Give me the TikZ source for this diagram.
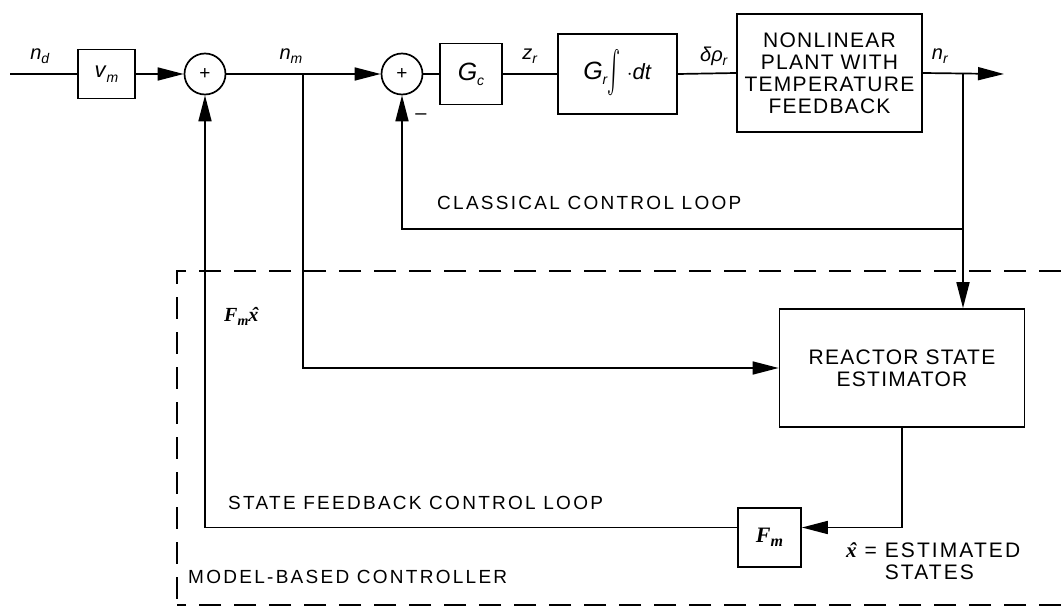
\documentclass[tikz,border=0pt]{standalone}
\usepackage{graphicx}
\usepackage{fontspec}
\setmainfont{Liberation Sans}
\newfontfamily\serifbi{Liberation Serif}
\usetikzlibrary{arrows.meta,calc}
\newcommand\xhatb{{\serifbi\bfseries\itshape\ooalign{x\cr\hidewidth\kern2.5pt ˆ\hidewidth\cr}}}
\newcommand\sbs[1]{\raisebox{-0.4ex}{\fontsize{14}{14}\selectfont\textit{#1}}}
\newcommand\bigintg{\raisebox{-19pt}{\resizebox{13pt}{49pt}{$\int$}}}
\begin{document}
\begin{tikzpicture}[x=1pt,y=-1pt,
  ln/.style={line width=1.7pt},
  blk/.style={draw,line width=1.7pt,inner sep=0pt,align=center,font=\fontsize{22}{22}\selectfont},
  bigblk/.style={blk,font=\fontsize{21}{22}\selectfont\addfontfeature{LetterSpace=6}},
  sumc/.style={draw,circle,minimum size=41pt,inner sep=0pt,line width=1.7pt,font=\fontsize{19}{19}\selectfont},
  arr/.style={ln,-{Triangle[length=26pt,width=13pt]}},
  lbl/.style={inner sep=0pt,font=\fontsize{19}{20}\selectfont\addfontfeature{LetterSpace=12}},
  mlbl/.style={inner sep=0pt,font=\fontsize{20}{20}\selectfont},
  dsh/.style={line width=1.7pt,dash pattern=on 22pt off 13pt}
]
\useasboundingbox (0,0) rectangle (1061,607);
% blocks
\node[blk,minimum width=57pt,minimum height=49pt] (vm) at (106.5,74) {\textit{v}\sbs{m}};
\node[sumc] (s1) at (205,74) {+};
\node[sumc] (s2) at (402,74) {+};
\node[blk,minimum width=62pt,minimum height=61pt] (gc) at (471,74) {\fontsize{25}{25}\selectfont\textit{G}\sbs{c}};
\node[blk,minimum width=119pt,minimum height=80pt] (gr) at (617.5,74) {\fontsize{25}{25}\selectfont\textit{G}\sbs{r}\bigintg\hspace{6pt}{\fontsize{22}{22}\selectfont$\cdot$\textit{dt}}};
\node[bigblk,minimum width=185pt,minimum height=118pt] (pl) at (829.5,73) {NONLINEAR\\PLANT WITH\\TEMPERATURE\\FEEDBACK};
\node[bigblk,minimum width=245pt,minimum height=118pt] (est) at (902,368) {REACTOR STATE\\ESTIMATOR};
\node[blk,minimum width=63pt,minimum height=59pt] (fm) at (769.5,537.5) {\serifbi\bfseries\itshape F\raisebox{-0.4ex}{\fontsize{16}{16}\selectfont m}};
% coordinates
\coordinate (in) at (10,74);
\coordinate (out) at (1004,74);
\coordinate (brr) at (963,74);
\coordinate (cl) at (963,229);
\coordinate (nmb) at (303,74);
\coordinate (fmin) at ($(fm.east)+(0,-10)$);
\coordinate (fmout) at ($(fm.west)+(0,-10)$);
% connectors
\draw[ln] (in) -- (vm.west);
\draw[arr] (vm.east) -- (s1.west);
\draw[arr] (s1.east) -- (s2.west);
\draw[ln] (s2.east) -- (gc.west);
\draw[ln] (gc.east) -- (gr.west);
\draw[ln] (gr.east) -- (pl.west);
\draw[arr] (pl.east) -- (out);
\draw[arr] (brr) -- (brr |- est.north);
\draw[arr] (cl) -| (s2.south);
\draw[arr] (nmb) |- (est.west);
\draw[arr] (est.south) |- (fmin);
\draw[arr] (fmout) -| (s1.south);
% dashed controller boundary
\draw[dsh] (1061,271) -- (177,271) -- (177,607);
\draw[dsh] (1061,605) -- (177,605);
% labels
\node[mlbl] (lnd) at (40,56) {\textit{n}\sbs{d}};
\node[mlbl] (lnm) at (291,56) {\textit{n}\sbs{m}};
\node[mlbl] (lzr) at (530,56) {\textit{z}\sbs{r}};
\node[mlbl] (ldr) at (714,56) {\textit{δρ}\sbs{r}};
\node[mlbl] (lnr) at (940,56) {\textit{n}\sbs{r}};
\node[mlbl] (lmin) at (421,117) {–};
\node[lbl,anchor=west] (lcl) at (437,203) {CLASSICAL CONTROL LOOP};
\node[mlbl,anchor=west] (lfmx) at (224,317) {{\serifbi\bfseries\itshape F\raisebox{-0.4ex}{\fontsize{14}{14}\selectfont m}}\xhatb};
\node[lbl,anchor=west] (lsf) at (228,503) {STATE FEEDBACK CONTROL LOOP};
\node[lbl,anchor=west] (lmb) at (188,577) {MODEL-BASED CONTROLLER};
\node[inner sep=0pt,anchor=north west,align=left,font=\fontsize{21}{22}\selectfont\addfontfeature{LetterSpace=10}] (lxe) at (846,543) {\xhatb{} = ESTIMATED\\\hphantom{\xhatb{} = }STATES};
\end{tikzpicture}
\end{document}
